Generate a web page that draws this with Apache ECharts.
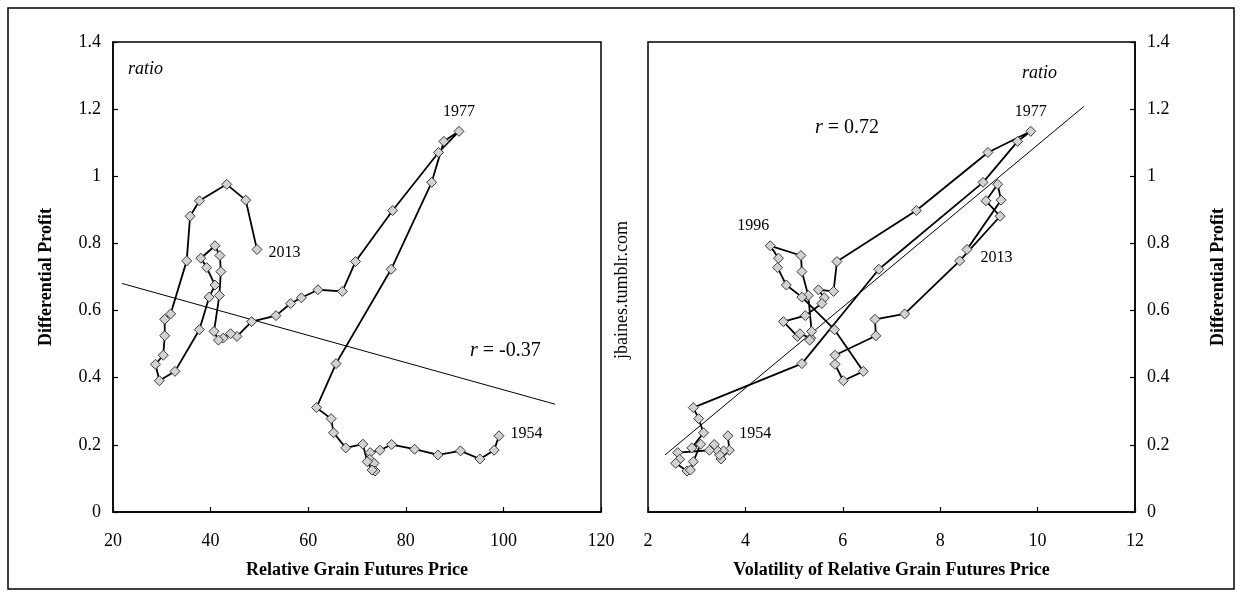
<!DOCTYPE html>
<html>
<head>
<meta charset="utf-8">
<title>Differential Profit</title>
<script src="https://cdn.jsdelivr.net/npm/echarts@6/dist/echarts.min.js"></script>
<style>
  html, body { margin: 0; padding: 0; background: #fff; }
  #main { width: 1242px; height: 597px; }
</style>
</head>
<body>
<div id="main"></div>
<script>
// differential profit, 1954 .. 2013 (ratio)
var profit = [
  0.227, 0.184, 0.158, 0.182, 0.170, 0.187, 0.201, 0.184, 0.177, 0.157,
  0.145, 0.122, 0.125, 0.150, 0.202, 0.191, 0.236, 0.278, 0.311, 0.442,
  0.723, 0.982, 1.104, 1.134, 1.071, 0.898, 0.746, 0.657, 0.662, 0.638,
  0.621, 0.585, 0.567, 0.523, 0.531, 0.518, 0.512, 0.538, 0.645, 0.716,
  0.764, 0.793, 0.756, 0.728, 0.676, 0.640, 0.543, 0.419, 0.391, 0.440,
  0.467, 0.525, 0.574, 0.590, 0.748, 0.881, 0.927, 0.976, 0.929, 0.782
];
// relative grain futures price
var price = [
  99.1, 98.1, 95.2, 91.2, 86.6, 81.8, 77.1, 74.7, 72.7, 72.6,
  73.5, 73.7, 73.1, 72.1, 71.2, 67.7, 65.2, 64.7, 61.7, 65.7,
  77.0, 85.3, 87.8, 90.9, 86.7, 77.3, 69.7, 67.0, 62.0, 58.6,
  56.4, 53.4, 48.4, 45.4, 44.1, 42.6, 41.6, 40.7, 41.8, 42.1,
  41.9, 40.9, 38.0, 39.2, 40.9, 39.7, 37.7, 32.7, 29.5, 28.7,
  30.3, 30.6, 30.6, 31.8, 35.1, 35.8, 37.7, 43.3, 47.2, 49.5
];
// volatility of relative grain futures price
var volatility = [
  3.64, 3.67, 3.50, 3.55, 3.47, 3.40, 3.36, 3.26, 2.61, 2.65,
  2.57, 2.80, 2.87, 2.93, 3.08, 2.90, 3.14, 3.04, 2.93, 5.16,
  6.74, 8.88, 9.59, 9.86, 8.98, 7.51, 5.88, 5.81, 5.50, 5.62,
  5.57, 5.23, 4.78, 5.07, 5.12, 5.34, 5.32, 5.36, 5.29, 5.16,
  5.14, 4.51, 4.68, 4.66, 4.84, 5.16, 5.83, 6.42, 6.01, 5.84,
  5.84, 6.68, 6.66, 7.27, 8.40, 9.23, 8.94, 9.18, 9.25, 8.55
];
// fitted lines (end points)
var fitLeftX = [21.8, 110.6];
var fitLeftY = [0.681, 0.321];
var fitRightX = [2.35, 10.95];
var fitRightY = [0.170, 1.208];
// year labels: point index -> text
var leftYears = [[0, '1954'], [23, '1977'], [59, '2013']];
var rightYears = [[0, '1954'], [23, '1977'], [41, '1996'], [59, '2013']];

var FONT = 'Liberation Serif';

var labelPlace = {
  '1954': { position: 'right', offset: [1, -2] },
  '1977': { position: 'top', offset: [0, -1] },
  '1996': { position: 'top', offset: [-17, -1] },
  '2013': { position: 'right', offset: [1, 3] }
};

function buildPath(xs, years, right) {
  var out = [];
  for (var i = 0; i < profit.length; i++) {
    out.push({ value: [xs[i], profit[i]] });
  }
  years.forEach(function (y) {
    var p = labelPlace[y[1]];
    var off = p.offset;
    if (right && y[1] === '2013') off = [3, 8];
    out[y[0]].label = {
      show: true,
      formatter: y[1],
      position: p.position,
      offset: off,
      color: '#000',
      fontFamily: FONT,
      fontSize: 16
    };
  });
  return out;
}

function pairs(xs, ys) {
  return xs.map(function (x, i) { return [x, ys[i]]; });
}

var myChart = echarts.init(document.getElementById('main'));

var axisCommon = {
  axisLine: { show: true, onZero: false, lineStyle: { color: '#000', width: 1.5 } },
  axisTick: { show: true, inside: true, length: 5, lineStyle: { color: '#000', width: 1.2 } },
  axisLabel: { color: '#000', fontFamily: FONT, fontSize: 18, margin: 12 },
  splitLine: { show: false },
  nameTextStyle: { color: '#000', fontFamily: FONT, fontSize: 18, fontWeight: 'bold' }
};
var xLabel = { color: '#000', fontFamily: FONT, fontSize: 18, margin: 20 };

var pathStyle = {
  type: 'line',
  symbol: 'diamond',
  symbolSize: 10,
  showAllSymbol: true,
  lineStyle: { color: '#000', width: 1.8 },
  itemStyle: { color: '#d2d2d2', borderColor: '#3a3a3a', borderWidth: 1 },
  emphasis: { disabled: true },
  z: 3
};

var fitStyle = {
  type: 'line',
  symbol: 'none',
  lineStyle: { color: '#000', width: 1 },
  emphasis: { disabled: true },
  z: 2
};

var option = {
  animation: false,
  backgroundColor: '#fff',
  grid: [
    { left: 113, top: 42, width: 488, height: 470, show: true, borderColor: '#000', borderWidth: 1.5 },
    { left: 648, top: 42, width: 487, height: 470, show: true, borderColor: '#000', borderWidth: 1.5 }
  ],
  xAxis: [
    Object.assign({}, axisCommon, {
      gridIndex: 0, type: 'value', min: 20, max: 120, interval: 20, axisLabel: xLabel,
      name: 'Relative Grain Futures Price', nameLocation: 'middle', nameGap: 49
    }),
    Object.assign({}, axisCommon, {
      gridIndex: 1, type: 'value', min: 2, max: 12, interval: 2, axisLabel: xLabel,
      name: 'Volatility of Relative Grain Futures Price', nameLocation: 'middle', nameGap: 49
    })
  ],
  yAxis: [
    Object.assign({}, axisCommon, {
      gridIndex: 0, type: 'value', min: 0, max: 1.4, interval: 0.2,
      name: 'Differential Profit', nameLocation: 'middle', nameGap: 58
    }),
    Object.assign({}, axisCommon, {
      gridIndex: 1, type: 'value', min: 0, max: 1.4, interval: 0.2, position: 'right',
      name: 'Differential Profit', nameLocation: 'middle', nameGap: 74, nameRotate: 90
    })
  ],
  series: [
    Object.assign({}, fitStyle, { xAxisIndex: 0, yAxisIndex: 0, data: pairs(fitLeftX, fitLeftY) }),
    Object.assign({}, pathStyle, { xAxisIndex: 0, yAxisIndex: 0, data: buildPath(price, leftYears, false) }),
    Object.assign({}, fitStyle, { xAxisIndex: 1, yAxisIndex: 1, data: pairs(fitRightX, fitRightY) }),
    Object.assign({}, pathStyle, { xAxisIndex: 1, yAxisIndex: 1, data: buildPath(volatility, rightYears, true) })
  ],
  graphic: [
    { type: 'rect', shape: { x: 8, y: 8, width: 1226, height: 581 },
      style: { fill: 'none', stroke: '#000', lineWidth: 1.5 }, silent: true },
    { type: 'text', left: 128, top: 60,
      style: { text: 'ratio', fontFamily: FONT, fontSize: 18, fontStyle: 'italic', fill: '#000' } },
    { type: 'text', left: 1022, top: 64,
      style: { text: 'ratio', fontFamily: FONT, fontSize: 18, fontStyle: 'italic', fill: '#000' } },
    { type: 'text', left: 470, top: 341,
      style: { text: '{i|r} = -0.37', fontFamily: FONT, fontSize: 20, fill: '#000',
        rich: { i: { fontStyle: 'italic', fontFamily: FONT, fontSize: 20 } } } },
    { type: 'text', left: 815, top: 118,
      style: { text: '{i|r} = 0.72', fontFamily: FONT, fontSize: 20, fill: '#000',
        rich: { i: { fontStyle: 'italic', fontFamily: FONT, fontSize: 20 } } } },
    { type: 'text', x: 622, y: 290, rotation: Math.PI / 2,
      style: { text: 'jbaines.tumblr.com', fontFamily: FONT, fontSize: 18, fill: '#000',
        align: 'center', verticalAlign: 'middle' } }
  ]
};

myChart.setOption(option);
</script>
</body>
</html>
